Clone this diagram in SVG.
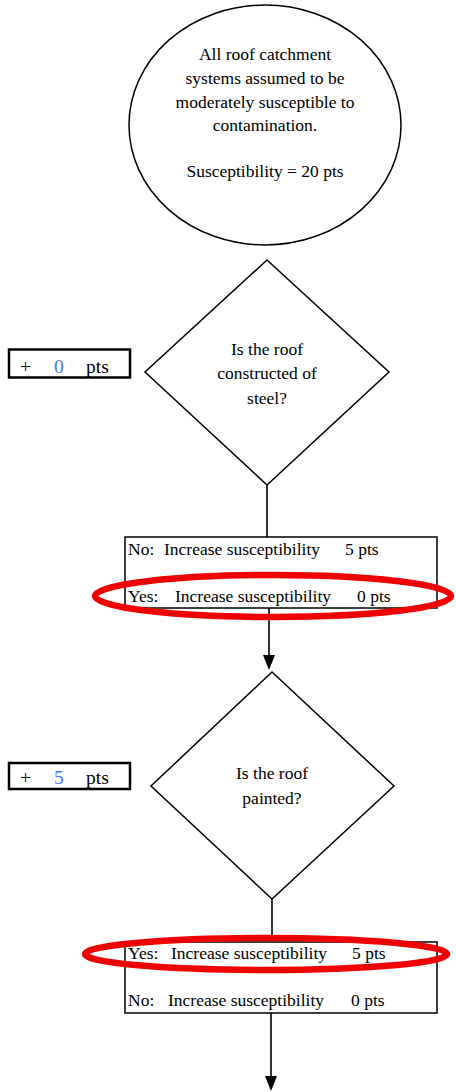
<svg xmlns="http://www.w3.org/2000/svg" width="456" height="1092" viewBox="0 0 456 1092">
<style>
text{font-family:'Liberation Serif','Times New Roman',Times,'DejaVu Serif',serif;font-size:17.5px;fill:#000}
.c{text-anchor:middle}
.t{font-size:19.5px}
.b{fill:#3c78f0}
.shape{fill:#fff;stroke:#000;stroke-width:1.5}
.tag{fill:#fff;stroke:#000;stroke-width:2.5}
.ring{fill:none;stroke:#f00000;stroke-width:6.5}
.ln{stroke:#000;stroke-width:1.6;fill:none}
</style>
<g font-family="Liberation Serif, serif">
<g id="connectors">
<line class="ln" x1="267" y1="485" x2="267" y2="537"/>
<line class="ln" x1="269" y1="608" x2="269" y2="655"/>
<path d="M263,655 L275,655 L269,670 Z" fill="#000"/>
<line class="ln" x1="272" y1="899" x2="272" y2="942"/>
<line class="ln" x1="271" y1="1013" x2="271" y2="1076"/>
<path d="M265,1076 L277,1076 L271,1091 Z" fill="#000"/>
</g>
<g id="start">
<ellipse class="shape" cx="265" cy="125" rx="136" ry="120"/>
<text class="c" x="265" y="60">All roof catchment</text>
<text class="c" x="265" y="84">systems assumed to be</text>
<text class="c" x="265" y="108">moderately susceptible to</text>
<text class="c" x="265" y="131">contamination.</text>
<text class="c" x="265" y="177">Susceptibility = 20 pts</text>
</g>
<g id="q1">
<polygon class="shape" points="267,260 389,372 267,485 145,372"/>
<text class="c" x="267" y="355">Is the roof</text>
<text class="c" x="267" y="379">constructed of</text>
<text class="c" x="267" y="404">steel?</text>
</g>
<g id="tag1">
<rect class="tag" x="9" y="349.5" width="121" height="28"/>
<text class="t" x="20" y="373">+</text>
<text class="t b" x="54" y="373">0</text>
<text class="t" x="86" y="373">pts</text>
</g>
<g id="ans1">
<rect class="shape" x="125" y="537" width="312" height="71"/>
<text x="128" y="555">No:</text>
<text x="164" y="555">Increase susceptibility</text>
<text x="345" y="555">5 pts</text>
<text x="128" y="602">Yes:</text>
<text x="175" y="602">Increase susceptibility</text>
<text x="357" y="602">0 pts</text>
</g>
<g id="q2">
<polygon class="shape" points="272,672 394,786 272,899 151,786"/>
<text class="c" x="272" y="779">Is the roof</text>
<text class="c" x="272" y="804">painted?</text>
</g>
<g id="tag2">
<rect class="tag" x="9" y="763" width="121" height="26"/>
<text class="t" x="20" y="784">+</text>
<text class="t b" x="54" y="784">5</text>
<text class="t" x="86" y="784">pts</text>
</g>
<g id="ans2">
<rect class="shape" x="125" y="942" width="312" height="71"/>
<text x="128" y="959">Yes:</text>
<text x="171" y="959">Increase susceptibility</text>
<text x="352" y="959">5 pts</text>
<text x="128" y="1006">No:</text>
<text x="168" y="1006">Increase susceptibility</text>
<text x="351" y="1006">0 pts</text>
</g>
<g id="highlights">
<ellipse class="ring" cx="273" cy="596" rx="178" ry="21"/>
<ellipse class="ring" cx="266" cy="954" rx="181" ry="16"/>
</g>
</g>
</svg>
